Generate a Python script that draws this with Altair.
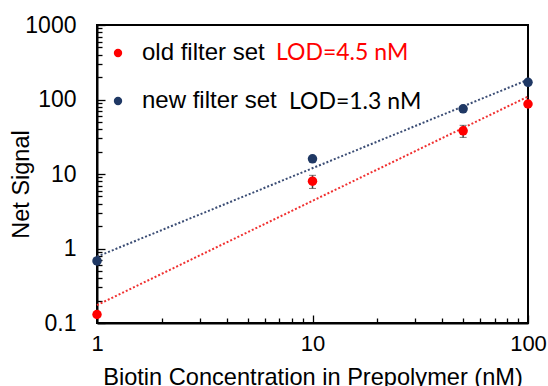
import altair as alt
import pandas as pd

conc = [1, 10, 50, 100]
old_vals = [0.13, 8.0, 38.0, 87.0]
old_err = [0.0, 1.6, 7.0, 0.0]
new_vals = [0.68, 16.0, 75.0, 170.0]
new_err = [0.0, 0.0, 0.0, 0.0]
series_names = ["old filter set", "new filter set"]
lod_texts = ["LOD=4.5 nM", "LOD=1.3 nM"]

x_major = [1, 10, 100]
x_minor = [2, 3, 4, 5, 6, 7, 8, 9, 20, 30, 40, 50, 60, 70, 80, 90]
y_major = [0.1, 1, 10, 100, 1000]
y_minor = [round(k * m, 1) for m in [0.1, 1, 10, 100] for k in range(2, 10)]

rows = []
for name, vals, errs in [(series_names[0], old_vals, old_err), (series_names[1], new_vals, new_err)]:
    for c, v, e in zip(conc, vals, errs):
        rows.append({"series": name, "conc": c, "val": v, "lo": v - e, "hi": v + e})
df = pd.DataFrame(rows)

W, H = 431, 298
xs = alt.Scale(type="log", domain=[1, 100], nice=False)
ys = alt.Scale(type="log", domain=[0.1, 1000], nice=False)
FONT = "Liberation Sans"

base = alt.Chart(df)

points = base.mark_circle(size=90, opacity=1).encode(
    x=alt.X("conc:Q", scale=xs,
            axis=alt.Axis(values=x_major, title="Biotin Concentration in Prepolymer (nM)",
                          ticks=False, tickSize=0, domain=True, domainColor="black",
                          domainWidth=2, grid=False,
                          labelFont=FONT, labelFontSize=22, labelColor="black",
                          labelBaseline="alphabetic", labelPadding=27, labelAlign="center",
                          labelFlush=False, format="~g",
                          titleFont=FONT, titleFontSize=23.6, titleFontWeight="normal",
                          titleColor="black", titleBaseline="alphabetic", titleY=61)),
    y=alt.Y("val:Q", scale=ys,
            axis=alt.Axis(values=y_major, title="Net Signal", ticks=False, tickSize=0,
                          domain=True, domainColor="black", domainWidth=2, grid=False,
                          labelFont=FONT, labelFontSize=23,
                          labelColor="black", labelPadding=21, labelFlush=False,
                          labelBaseline="middle", format="~g",
                          titleFont=FONT, titleFontSize=23.5, titleFontWeight="normal",
                          titleColor="black", titleAngle=270, titleBaseline="alphabetic",
                          titleAlign="center", titleX=-69, titleY=159)),
    fill=alt.Fill("series:N", sort=series_names,
                  scale=alt.Scale(domain=series_names, range=["#FF0000", "#1F3864"]),
                  legend=alt.Legend(title=None, orient="none", legendX=9, legendY=16,
                                    symbolType="circle", symbolSize=70,
                                    symbolStrokeWidth=0, labelFont=FONT,
                                    labelFontSize=24, labelColor="black", labelOffset=12,
                                    rowPadding=24, padding=0)),
)

lines = base.transform_regression(
    "conc", "val", method="pow", extent=[1, 100], groupby=["series"]
).transform_calculate(fit="datum.series").mark_line(strokeDash=[2, 2], strokeWidth=2).encode(
    x=alt.X("conc:Q", scale=xs,
            axis=alt.Axis(orient="top", offset=-H, values=x_minor, labels=False,
                          domain=False, grid=False, ticks=True, tickSize=5,
                          tickColor="black", tickWidth=1.3, title=None)),
    y=alt.Y("val:Q", scale=ys,
            axis=alt.Axis(orient="right", offset=-W, values=y_minor, labels=False,
                          domain=False, grid=False, ticks=True, tickSize=5,
                          tickColor="black", tickWidth=1.3, title=None)),
    stroke=alt.Stroke("fit:N",
                      scale=alt.Scale(domain=series_names, range=["#F03030", "#3A4C74"]),
                      legend=None),
)

major_ticks = base.mark_point(opacity=0).encode(
    x=alt.X("conc:Q", scale=xs,
            axis=alt.Axis(orient="top", offset=-H, values=x_major, labels=False,
                          domain=False, grid=False, ticks=True, tickSize=8,
                          tickColor="black", tickWidth=1.3, title=None)),
    y=alt.Y("val:Q", scale=ys,
            axis=alt.Axis(orient="right", offset=-W, values=y_major, labels=False,
                          domain=False, grid=False, ticks=True, tickSize=8,
                          tickColor="black", tickWidth=1.3, title=None)),
)

errbars = base.transform_filter("datum.hi > datum.lo").mark_errorbar(
    ticks=alt.MarkConfig(size=7, color="#404040", strokeWidth=1.5),
    rule=alt.MarkConfig(color="#404040", strokeWidth=1.5),
).encode(
    x=alt.X("conc:Q", scale=xs, axis=None),
    y=alt.Y("lo:Q", scale=ys, axis=None),
    y2="hi:Q",
)

lod_df = pd.DataFrame({"text": lod_texts})
lod_red = alt.Chart(lod_df).transform_filter(alt.datum.text == lod_texts[0]).mark_text(
    font="Lato", fontSize=23, color="#FF0000", align="left", baseline="alphabetic"
).encode(text="text:N", x=alt.value(276 - 97), y=alt.value(60 - 25))
lod_blk = alt.Chart(lod_df).transform_filter(alt.datum.text == lod_texts[1]).mark_text(
    font="Lato", fontSize=23, color="#000000", align="left", baseline="alphabetic"
).encode(text="text:N", x=alt.value(289 - 97), y=alt.value(109 - 25))

chart = alt.layer(lines, errbars, points, major_ticks, lod_red, lod_blk).resolve_axis(
    x="independent", y="independent"
).resolve_legend(fill="independent", stroke="independent").properties(
    width=W, height=H,
    autosize=alt.AutoSizeParams(type="none"),
    padding={"left": 97, "top": 25, "right": 20, "bottom": 63},
    background="white",
).configure_view(stroke="black", strokeWidth=2)

chart.save("out.html", embed_options={"renderer": "svg", "actions": False})
